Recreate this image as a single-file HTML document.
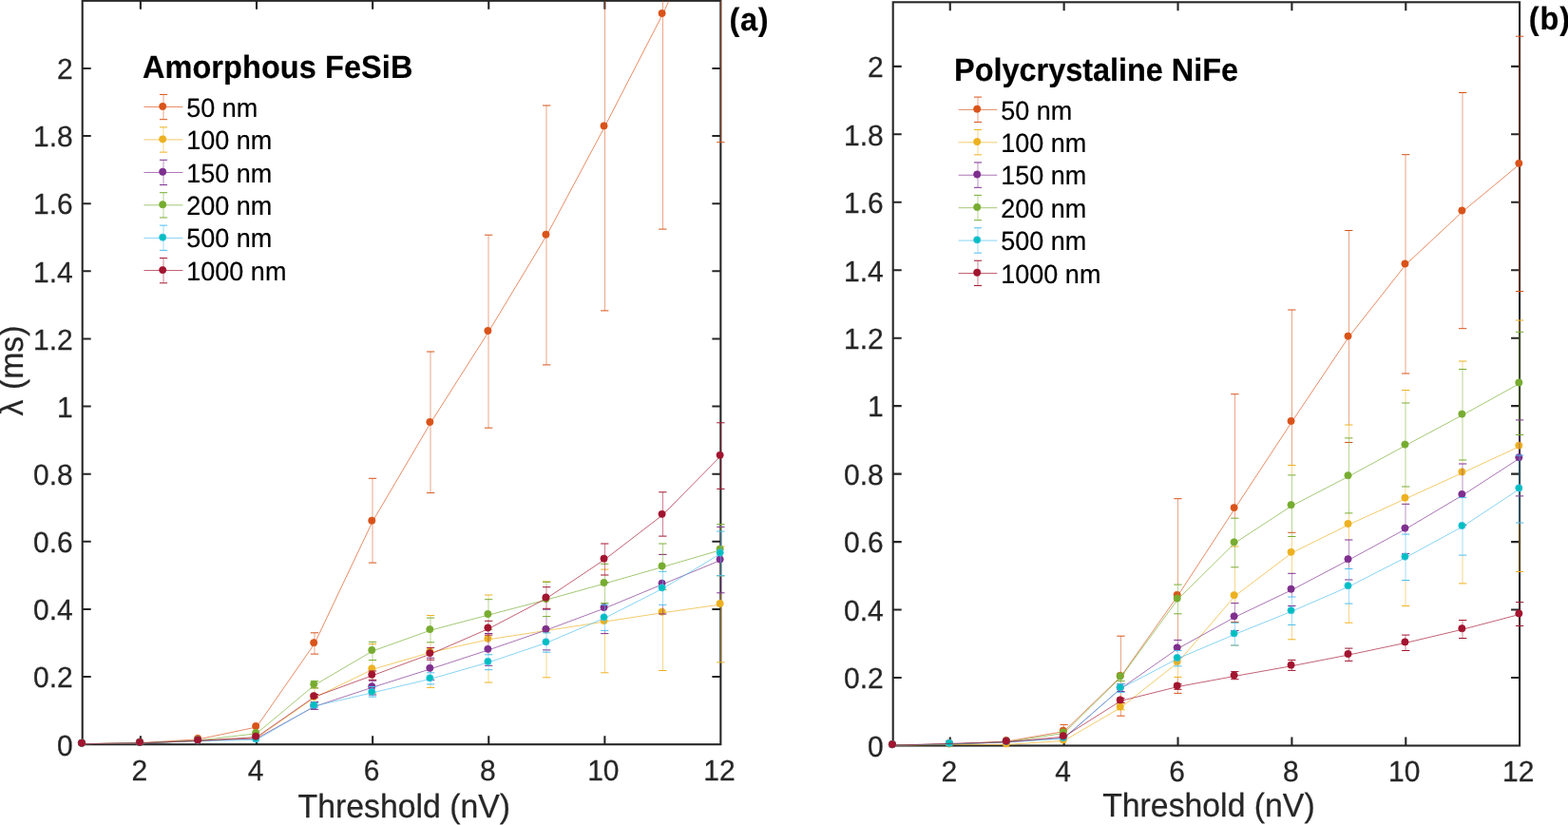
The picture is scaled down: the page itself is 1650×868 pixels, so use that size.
<!DOCTYPE html>
<html lang="en">
<head>
<meta charset="utf-8">
<title>Threshold dependence of lambda</title>
<style>
html,body{margin:0;padding:0;background:#fff;}
body{width:1650px;height:868px;overflow:hidden;}
svg{display:block;font-family:"Liberation Sans",Arial,Helvetica,sans-serif;text-rendering:geometricPrecision;}
</style>
</head>
<body>
<svg width="1650" height="868" viewBox="0 0 1650 868" role="img" aria-label="Lambda versus threshold for amorphous FeSiB and polycrystalline NiFe films">
<rect width="1650" height="868" fill="#fff"/>
<g stroke="#262626" stroke-width="2.1" fill="none" stroke-linecap="butt">
<rect x="86.7" y="0.8" width="671.65" height="782.4"/>
<path d="M147.89 783.2V774.2M147.89 0.8V9.8M270.01 783.2V774.2M270.01 0.8V9.8M392.13 783.2V774.2M392.13 0.8V9.8M514.25 783.2V774.2M514.25 0.8V9.8M636.37 783.2V774.2M636.37 0.8V9.8M86.7 712.07H95.7M758.35 712.07H749.35M86.7 640.95H95.7M758.35 640.95H749.35M86.7 569.82H95.7M758.35 569.82H749.35M86.7 498.69H95.7M758.35 498.69H749.35M86.7 427.56H95.7M758.35 427.56H749.35M86.7 356.44H95.7M758.35 356.44H749.35M86.7 285.31H95.7M758.35 285.31H749.35M86.7 214.18H95.7M758.35 214.18H749.35M86.7 143.05H95.7M758.35 143.05H749.35M86.7 71.93H95.7M758.35 71.93H749.35"/>
</g>
<clipPath id="clipa"><rect x="80.7" y="0.8" width="683.65" height="788.4"/></clipPath>
<g clip-path="url(#clipa)">
<g stroke="#D95319" stroke-width="0.67" fill="none">
<polyline points="86.73,782.7 147.79,781.6 208.85,777.8 269.91,765 330.97,677.2 392.03,548.7 453.09,445 514.15,349 575.21,247.7 636.27,133.4 697.33,15 758.39,-116"/>
<path stroke-width="0.52" d="M331 665.8V688.1M392 503.3V592.1M453 370V518.6M514 247.2V450.2M575 111V383.9M636.5 -60V326.9M697.5 -200V241.1M758.5 -400V149.7"/>
<path stroke-width="1.0" d="M326.82 665.8h8.3M326.82 688.1h8.3M387.88 503.3h8.3M387.88 592.1h8.3M448.94 370h8.3M448.94 518.6h8.3M510 247.2h8.3M510 450.2h8.3M571.06 111h8.3M571.06 383.9h8.3M632.12 -60h8.3M632.12 326.9h8.3M693.18 -200h8.3M693.18 241.1h8.3M754.24 -400h8.3M754.24 149.7h8.3"/>
</g>
<g fill="#D95319" stroke="#D95319" stroke-width="0.67">
<circle cx="85.98" cy="781.7" r="3.67"/>
<circle cx="147.04" cy="780.6" r="3.67"/>
<circle cx="208.1" cy="776.8" r="3.67"/>
<circle cx="269.16" cy="764" r="3.67"/>
<circle cx="330.22" cy="676.2" r="3.67"/>
<circle cx="391.28" cy="547.7" r="3.67"/>
<circle cx="452.34" cy="444" r="3.67"/>
<circle cx="513.4" cy="348" r="3.67"/>
<circle cx="574.46" cy="246.7" r="3.67"/>
<circle cx="635.52" cy="132.4" r="3.67"/>
<circle cx="696.58" cy="14" r="3.67"/>
</g>
<g stroke="#EDB120" stroke-width="0.67" fill="none">
<polyline points="86.73,782.7 147.79,781.9 208.85,779.4 269.91,776.5 330.97,734 392.03,704.3 453.09,686.4 514.15,672.8 575.21,663.4 636.27,654.1 697.33,644.7 758.39,636"/>
<path stroke-width="0.52" d="M331 724V730.5M331 733.9V738.6M392 694.5V706M392 715.3V716.2M453 647.5V650.1M453 675.8V681.6M453 719.9V723.4M514 626V630.7M514 704.7V718M575 612V612.3M575 686.2V712.8M636.5 666.6V707.8M697.5 646V705.5M758.5 623.8V696.9"/>
<path stroke-width="1.0" d="M326.82 723.7h8.3M326.82 742.3h8.3M387.88 677.6h8.3M387.88 729h8.3M448.94 647.5h8.3M448.94 723.4h8.3M510 626h8.3M510 718h8.3M571.06 612h8.3M571.06 712.8h8.3M632.12 599.1h8.3M632.12 707.8h8.3M693.18 583.4h8.3M693.18 705.5h8.3M754.24 575h8.3M754.24 696.9h8.3"/>
</g>
<g fill="#EDB120" stroke="#EDB120" stroke-width="0.67">
<circle cx="85.98" cy="781.7" r="3.67"/>
<circle cx="147.04" cy="780.9" r="3.67"/>
<circle cx="208.1" cy="778.4" r="3.67"/>
<circle cx="269.16" cy="775.5" r="3.67"/>
<circle cx="330.22" cy="733" r="3.67"/>
<circle cx="391.28" cy="703.3" r="3.67"/>
<circle cx="452.34" cy="685.4" r="3.67"/>
<circle cx="513.4" cy="671.8" r="3.67"/>
<circle cx="574.46" cy="662.4" r="3.67"/>
<circle cx="635.52" cy="653.1" r="3.67"/>
<circle cx="696.58" cy="643.7" r="3.67"/>
<circle cx="757.64" cy="635" r="3.67"/>
</g>
<g stroke="#7E2F8E" stroke-width="0.67" fill="none">
<polyline points="86.73,782.7 147.79,781.9 208.85,779.4 269.91,777 330.97,743.4 392.03,723.2 453.09,703.8 514.15,683.8 575.21,662.8 636.27,640 697.33,614.7 758.39,589.4"/>
<path stroke-width="0.52" d="M331 738.6V739.6M331 744.2V746.4M392 716.2V722.5M453 694.2V707.8M514 668.1V688.8M575 648.6V665.9M636.5 634.6V636.3M636.5 663.4V666.6M697.5 636.3V646M758.5 605.8V623.8"/>
<path stroke-width="1.0" d="M326.82 738.6h8.3M326.82 746.4h8.3M387.88 716.2h8.3M387.88 731h8.3M448.94 692.2h8.3M448.94 715.4h8.3M510 666.5h8.3M510 700.3h8.3M571.06 641.2h8.3M571.06 683.9h8.3M632.12 613h8.3M632.12 666.6h8.3M693.18 583.4h8.3M693.18 646h8.3M754.24 554.4h8.3M754.24 623.8h8.3"/>
</g>
<g fill="#7E2F8E" stroke="#7E2F8E" stroke-width="0.67">
<circle cx="85.98" cy="781.7" r="3.67"/>
<circle cx="147.04" cy="780.9" r="3.67"/>
<circle cx="208.1" cy="778.4" r="3.67"/>
<circle cx="269.16" cy="776" r="3.67"/>
<circle cx="330.22" cy="742.4" r="3.67"/>
<circle cx="391.28" cy="722.2" r="3.67"/>
<circle cx="452.34" cy="702.8" r="3.67"/>
<circle cx="513.4" cy="682.8" r="3.67"/>
<circle cx="574.46" cy="661.8" r="3.67"/>
<circle cx="635.52" cy="639" r="3.67"/>
<circle cx="696.58" cy="613.7" r="3.67"/>
<circle cx="757.64" cy="588.4" r="3.67"/>
</g>
<g stroke="#77AC30" stroke-width="0.67" fill="none">
<polyline points="86.73,782.7 147.79,781.9 208.85,779 269.91,771.8 330.97,720.8 392.03,685 453.09,663.1 514.15,647 575.21,631 636.27,614 697.33,596.5 758.39,578.7"/>
<path stroke-width="0.52" d="M331 716.6V724M392 675.4V694.5M453 650.1V675.8M514 630.7V653.3M575 612.3V617.7M575 640.3V648.6M636.5 605V634.6M697.5 572V601.3M758.5 551.6V559.1M758.5 605.7V605.8"/>
<path stroke-width="1.0" d="M326.82 716.6h8.3M326.82 724h8.3M387.88 675.4h8.3M387.88 694.5h8.3M448.94 650.1h8.3M448.94 675.8h8.3M510 630.7h8.3M510 662.4h8.3M571.06 612.3h8.3M571.06 648.6h8.3M632.12 593.3h8.3M632.12 634.6h8.3M693.18 572h8.3M693.18 620.4h8.3M754.24 551.6h8.3M754.24 605.8h8.3"/>
</g>
<g fill="#77AC30" stroke="#77AC30" stroke-width="0.67">
<circle cx="85.98" cy="781.7" r="3.67"/>
<circle cx="147.04" cy="780.9" r="3.67"/>
<circle cx="208.1" cy="778" r="3.67"/>
<circle cx="269.16" cy="770.8" r="3.67"/>
<circle cx="330.22" cy="719.8" r="3.67"/>
<circle cx="391.28" cy="684" r="3.67"/>
<circle cx="452.34" cy="662.1" r="3.67"/>
<circle cx="513.4" cy="646" r="3.67"/>
<circle cx="574.46" cy="630" r="3.67"/>
<circle cx="635.52" cy="613" r="3.67"/>
<circle cx="696.58" cy="595.5" r="3.67"/>
<circle cx="757.64" cy="577.7" r="3.67"/>
</g>
<g stroke="#4DBEEE" stroke-width="0.67" fill="none">
<polyline points="86.73,782.7 147.79,781.9 208.85,779.6 269.91,778.4 330.97,742.8 392.03,728.8 453.09,714.3 514.15,696.9 575.21,676.3 636.27,650.3 697.33,619.3 758.39,582.5"/>
<path stroke-width="0.52" d="M331 739.6V744.2M392 722.5V733.1M453 707.8V719.9M514 688.8V704.7M575 665.9V686.2M636.5 636.3V663.4M697.5 601.3V636.3M758.5 559.1V605.7"/>
<path stroke-width="1.0" d="M326.82 739.6h8.3M326.82 744.2h8.3M387.88 722.5h8.3M387.88 733.1h8.3M448.94 707.8h8.3M448.94 719.9h8.3M510 688.8h8.3M510 704.7h8.3M571.06 665.9h8.3M571.06 686.2h8.3M632.12 636.3h8.3M632.12 663.4h8.3M693.18 601.3h8.3M693.18 636.3h8.3M754.24 559.1h8.3M754.24 605.7h8.3"/>
</g>
<g fill="#00BFBF" stroke="#4DBEEE" stroke-width="0.67">
<circle cx="85.98" cy="781.7" r="3.67"/>
<circle cx="147.04" cy="780.9" r="3.67"/>
<circle cx="208.1" cy="778.6" r="3.67"/>
<circle cx="269.16" cy="777.4" r="3.67"/>
<circle cx="330.22" cy="741.8" r="3.67"/>
<circle cx="391.28" cy="727.8" r="3.67"/>
<circle cx="452.34" cy="713.3" r="3.67"/>
<circle cx="513.4" cy="695.9" r="3.67"/>
<circle cx="574.46" cy="675.3" r="3.67"/>
<circle cx="635.52" cy="649.3" r="3.67"/>
<circle cx="696.58" cy="618.3" r="3.67"/>
<circle cx="757.64" cy="581.5" r="3.67"/>
</g>
<g stroke="#A2142F" stroke-width="0.67" fill="none">
<polyline points="86.73,782.7 147.79,781.8 208.85,779.4 269.91,775.6 330.97,733.1 392.03,710.7 453.09,688.1 514.15,661.5 575.21,629.5 636.27,588.7 697.33,541.8 758.39,479.8"/>
<path stroke-width="0.52" d="M331 730.5V733.9M392 706V715.3M453 681.6V694.2M514 653.3V668.1M575 617.7V640.3M636.5 572V605M697.5 517.8V564.1M758.5 444.8V514.4"/>
<path stroke-width="1.0" d="M326.82 730.5h8.3M326.82 733.9h8.3M387.88 706h8.3M387.88 715.3h8.3M448.94 681.6h8.3M448.94 694.2h8.3M510 653.3h8.3M510 668.1h8.3M571.06 617.7h8.3M571.06 640.3h8.3M632.12 572h8.3M632.12 605h8.3M693.18 517.8h8.3M693.18 564.1h8.3M754.24 444.8h8.3M754.24 514.4h8.3"/>
</g>
<g fill="#A2142F" stroke="#A2142F" stroke-width="0.67">
<circle cx="85.98" cy="781.7" r="3.67"/>
<circle cx="147.04" cy="780.8" r="3.67"/>
<circle cx="208.1" cy="778.4" r="3.67"/>
<circle cx="269.16" cy="774.6" r="3.67"/>
<circle cx="330.22" cy="732.1" r="3.67"/>
<circle cx="391.28" cy="709.7" r="3.67"/>
<circle cx="452.34" cy="687.1" r="3.67"/>
<circle cx="513.4" cy="660.5" r="3.67"/>
<circle cx="574.46" cy="628.5" r="3.67"/>
<circle cx="635.52" cy="587.7" r="3.67"/>
<circle cx="696.58" cy="540.8" r="3.67"/>
<circle cx="757.64" cy="478.8" r="3.67"/>
</g>
</g>
<g fill="#262626" stroke="#262626" stroke-width="0.25">
<text transform="translate(146.89 820.7) scale(1 1.02)" font-size="30.0" text-anchor="middle">2</text>
<text transform="translate(269.01 820.7) scale(1 1.02)" font-size="30.0" text-anchor="middle">4</text>
<text transform="translate(391.13 820.7) scale(1 1.02)" font-size="30.0" text-anchor="middle">6</text>
<text transform="translate(513.25 820.7) scale(1 1.02)" font-size="30.0" text-anchor="middle">8</text>
<text transform="translate(634.87 820.7) scale(1 1.02)" font-size="30.0" text-anchor="middle">10</text>
<text transform="translate(756.99 820.7) scale(1 1.02)" font-size="30.0" text-anchor="middle">12</text>
<text transform="translate(76.8 794.5) scale(1 1.02)" font-size="30.0" text-anchor="end">0</text>
<text transform="translate(76.8 723.37) scale(1 1.02)" font-size="30.0" text-anchor="end">0.2</text>
<text transform="translate(76.8 652.25) scale(1 1.02)" font-size="30.0" text-anchor="end">0.4</text>
<text transform="translate(76.8 581.12) scale(1 1.02)" font-size="30.0" text-anchor="end">0.6</text>
<text transform="translate(76.8 509.99) scale(1 1.02)" font-size="30.0" text-anchor="end">0.8</text>
<text transform="translate(76.8 438.86) scale(1 1.02)" font-size="30.0" text-anchor="end">1</text>
<text transform="translate(76.8 367.74) scale(1 1.02)" font-size="30.0" text-anchor="end">1.2</text>
<text transform="translate(76.8 296.61) scale(1 1.02)" font-size="30.0" text-anchor="end">1.4</text>
<text transform="translate(76.8 225.48) scale(1 1.02)" font-size="30.0" text-anchor="end">1.6</text>
<text transform="translate(76.8 154.35) scale(1 1.02)" font-size="30.0" text-anchor="end">1.8</text>
<text transform="translate(76.8 83.23) scale(1 1.02)" font-size="30.0" text-anchor="end">2</text>
<text transform="translate(425.3 860.3) scale(1 1.03)" font-size="33.8" text-anchor="middle">Threshold (nV)</text>
<text transform="translate(24.2 0) rotate(-90) scale(1 1.03)" font-size="33.8"><tspan x="-437.6" text-anchor="start">λ</tspan><tspan x="-342.5" text-anchor="end"> (ms)</tspan></text>
</g>
<g fill="#000" stroke="#000" stroke-width="0.2">
<text transform="translate(149.9 82) scale(1 1.04)" font-size="32.5" font-weight="bold" textLength="284.5" lengthAdjust="spacing">Amorphous FeSiB</text>
<text transform="translate(196.3 122.7) scale(1 1.03)" font-size="27.0">50 nm</text>
<text transform="translate(196.3 157.12) scale(1 1.03)" font-size="27.0">100 nm</text>
<text transform="translate(196.3 191.54) scale(1 1.03)" font-size="27.0">150 nm</text>
<text transform="translate(196.3 225.96) scale(1 1.03)" font-size="27.0">200 nm</text>
<text transform="translate(196.3 260.38) scale(1 1.03)" font-size="27.0">500 nm</text>
<text transform="translate(196.3 294.8) scale(1 1.03)" font-size="27.0">1000 nm</text>
<text transform="translate(767.6 31.6) scale(1 1.04)" font-size="32.5" font-weight="bold" textLength="40.9" lengthAdjust="spacing">(a)</text>
</g>
<g stroke="#D95319" stroke-width="0.67" fill="none">
<path d="M151.45 112.45h41"/>
<path stroke-width="0.52" d="M172 99.45V125.7"/>
<path stroke-width="1.0" d="M167.95 99.45h8.1M167.95 125.7h8.1"/>
<circle cx="171.2" cy="111.95" r="3.67" fill="#D95319"/>
</g>
<g stroke="#EDB120" stroke-width="0.67" fill="none">
<path d="M151.45 146.95h41"/>
<path stroke-width="0.52" d="M172 133.87V160.12"/>
<path stroke-width="1.0" d="M167.95 133.87h8.1M167.95 160.12h8.1"/>
<circle cx="171.2" cy="146.37" r="3.67" fill="#EDB120"/>
</g>
<g stroke="#7E2F8E" stroke-width="0.67" fill="none">
<path d="M151.45 181.45h41"/>
<path stroke-width="0.52" d="M172 168.29V194.54"/>
<path stroke-width="1.0" d="M167.95 168.29h8.1M167.95 194.54h8.1"/>
<circle cx="171.2" cy="180.79" r="3.67" fill="#7E2F8E"/>
</g>
<g stroke="#77AC30" stroke-width="0.67" fill="none">
<path d="M151.45 215.8h41"/>
<path stroke-width="0.52" d="M172 202.71V228.96"/>
<path stroke-width="1.0" d="M167.95 202.71h8.1M167.95 228.96h8.1"/>
<circle cx="171.2" cy="215.21" r="3.67" fill="#77AC30"/>
</g>
<g stroke="#4DBEEE" stroke-width="0.67" fill="none">
<path d="M151.45 250.4h41"/>
<path stroke-width="0.52" d="M172 237.13V263.38"/>
<path stroke-width="1.0" d="M167.95 237.13h8.1M167.95 263.38h8.1"/>
<circle cx="171.2" cy="249.63" r="3.67" fill="#00BFBF"/>
</g>
<g stroke="#A2142F" stroke-width="0.67" fill="none">
<path d="M151.45 284.5h41"/>
<path stroke-width="0.52" d="M172 271.55V297.8"/>
<path stroke-width="1.0" d="M167.95 271.55h8.1M167.95 297.8h8.1"/>
<circle cx="171.2" cy="284.05" r="3.67" fill="#A2142F"/>
</g>
<g stroke="#262626" stroke-width="2.1" fill="none" stroke-linecap="butt">
<rect x="939.7" y="2.3" width="659.4" height="782.2"/>
<path d="M999.75 784.5V775.5M999.75 2.3V11.3M1119.63 784.5V775.5M1119.63 2.3V11.3M1239.53 784.5V775.5M1239.53 2.3V11.3M1359.41 784.5V775.5M1359.41 2.3V11.3M1479.3 784.5V775.5M1479.3 2.3V11.3M939.7 713.03H948.7M1599.1 713.03H1590.1M939.7 641.57H948.7M1599.1 641.57H1590.1M939.7 570.1H948.7M1599.1 570.1H1590.1M939.7 498.63H948.7M1599.1 498.63H1590.1M939.7 427.17H948.7M1599.1 427.17H1590.1M939.7 355.7H948.7M1599.1 355.7H1590.1M939.7 284.24H948.7M1599.1 284.24H1590.1M939.7 212.77H948.7M1599.1 212.77H1590.1M939.7 141.3H948.7M1599.1 141.3H1590.1M939.7 69.84H948.7M1599.1 69.84H1590.1"/>
</g>
<clipPath id="clipb"><rect x="933.7" y="2.3" width="671.4" height="788.2"/></clipPath>
<g clip-path="url(#clipb)">
<g stroke="#D95319" stroke-width="0.67" fill="none">
<polyline points="939.7,784.1 999.65,783 1059.59,780 1119.54,769.6 1179.48,711.8 1239.43,626.8 1299.37,535.1 1359.32,444 1419.26,354.6 1479.2,278.5 1539.15,222.5 1599.1,172.8"/>
<path stroke-width="0.52" d="M1119.5 762.4V774.8M1179.5 669.2V708.3M1179.5 716.4V719.5M1179.5 728.4V734.6M1179.5 739.2V740M1179.5 746.8V753.2M1239.5 524.7V615.1M1239.5 645.8V673.4M1239.5 712.4V719.7M1239.5 725.3V729.4M1299.5 414.7V545.2M1359.5 326V489.5M1419.5 242.5V447M1479 162.7V393M1539 97.5V345.7M1599 38.2V306.5"/>
<path stroke-width="1.0" d="M1115.38 762.4h8.3M1115.38 774.8h8.3M1175.33 669.2h8.3M1175.33 753.2h8.3M1235.28 524.7h8.3M1235.28 729.4h8.3M1295.22 414.7h8.3M1295.22 654.5h8.3M1355.16 326h8.3M1355.16 560.3h8.3M1415.11 242.5h8.3M1415.11 465.5h8.3M1475.05 162.7h8.3M1475.05 393h8.3M1535 97.5h8.3M1535 345.7h8.3M1594.94 38.2h8.3M1594.94 306.5h8.3"/>
</g>
<g fill="#D95319" stroke="#D95319" stroke-width="0.67">
<circle cx="938.95" cy="783.1" r="3.67"/>
<circle cx="998.9" cy="782" r="3.67"/>
<circle cx="1058.84" cy="779" r="3.67"/>
<circle cx="1118.79" cy="768.6" r="3.67"/>
<circle cx="1178.73" cy="710.8" r="3.67"/>
<circle cx="1238.68" cy="625.8" r="3.67"/>
<circle cx="1298.62" cy="534.1" r="3.67"/>
<circle cx="1358.57" cy="443" r="3.67"/>
<circle cx="1418.51" cy="353.6" r="3.67"/>
<circle cx="1478.45" cy="277.5" r="3.67"/>
<circle cx="1538.4" cy="221.5" r="3.67"/>
<circle cx="1598.35" cy="171.8" r="3.67"/>
</g>
<g stroke="#EDB120" stroke-width="0.67" fill="none">
<polyline points="939.7,784.1 999.65,783.5 1059.59,783.4 1119.54,779.4 1179.48,744.4 1239.43,697.1 1299.37,627.2 1359.32,581.8 1419.26,552 1479.2,524.7 1539.15,497.4 1599.1,469.7"/>
<path stroke-width="0.52" d="M1179.5 740V746.8M1239.5 700.9V712.4M1299.5 596.8V634.6M1359.5 489.5V499.9M1359.5 564.5V603.3M1359.5 657.5V672.8M1419.5 447V460.9M1419.5 539.9V568M1419.5 635.1V655.2M1479 410.5V424M1479 512V530.3M1479 610.5V637.5M1539 380V388.5M1539 484V488M1539 584.1V613.9M1599 337V349.3M1599 550V601.5"/>
<path stroke-width="1.0" d="M1175.33 740h8.3M1175.33 746.8h8.3M1235.28 680h8.3M1235.28 712.4h8.3M1295.22 575h8.3M1295.22 679h8.3M1355.16 489.5h8.3M1355.16 672.8h8.3M1415.11 447h8.3M1415.11 655.2h8.3M1475.05 410.5h8.3M1475.05 637.5h8.3M1535 380h8.3M1535 613.9h8.3M1594.94 337h8.3M1594.94 601.5h8.3"/>
</g>
<g fill="#EDB120" stroke="#EDB120" stroke-width="0.67">
<circle cx="938.95" cy="783.1" r="3.67"/>
<circle cx="998.9" cy="782.5" r="3.67"/>
<circle cx="1058.84" cy="782.4" r="3.67"/>
<circle cx="1118.79" cy="778.4" r="3.67"/>
<circle cx="1178.73" cy="743.4" r="3.67"/>
<circle cx="1238.68" cy="696.1" r="3.67"/>
<circle cx="1298.62" cy="626.2" r="3.67"/>
<circle cx="1358.57" cy="580.8" r="3.67"/>
<circle cx="1418.51" cy="551" r="3.67"/>
<circle cx="1478.45" cy="523.7" r="3.67"/>
<circle cx="1538.4" cy="496.4" r="3.67"/>
<circle cx="1598.35" cy="468.7" r="3.67"/>
</g>
<g stroke="#7E2F8E" stroke-width="0.67" fill="none">
<polyline points="939.7,784.1 999.65,783 1059.59,780.8 1119.54,776.5 1179.48,724.4 1239.43,682.4 1299.37,649.3 1359.32,620.7 1419.26,589.2 1479.2,556.6 1539.15,521 1599.1,482.2"/>
<path stroke-width="0.52" d="M1179.5 719.5V719.7M1239.5 673.4V684.5M1299.5 634.6V655.3M1359.5 603.3V628M1419.5 568V598.5M1479 530.3V562.1M1539 488V523.6M1599 457.5V479.1"/>
<path stroke-width="1.0" d="M1175.33 719.5h8.3M1175.33 727.5h8.3M1235.28 673.4h8.3M1235.28 691.5h8.3M1295.22 634.6h8.3M1295.22 663.5h8.3M1355.16 603.3h8.3M1355.16 637.5h8.3M1415.11 568h8.3M1415.11 610h8.3M1475.05 530.3h8.3M1475.05 582.4h8.3M1535 488h8.3M1535 552.5h8.3M1594.94 441.9h8.3M1594.94 521.9h8.3"/>
</g>
<g fill="#7E2F8E" stroke="#7E2F8E" stroke-width="0.67">
<circle cx="938.95" cy="783.1" r="3.67"/>
<circle cx="998.9" cy="782" r="3.67"/>
<circle cx="1058.84" cy="779.8" r="3.67"/>
<circle cx="1118.79" cy="775.5" r="3.67"/>
<circle cx="1178.73" cy="723.4" r="3.67"/>
<circle cx="1238.68" cy="681.4" r="3.67"/>
<circle cx="1298.62" cy="648.3" r="3.67"/>
<circle cx="1358.57" cy="619.7" r="3.67"/>
<circle cx="1418.51" cy="588.2" r="3.67"/>
<circle cx="1478.45" cy="555.6" r="3.67"/>
<circle cx="1538.4" cy="520" r="3.67"/>
<circle cx="1598.35" cy="481.2" r="3.67"/>
</g>
<g stroke="#77AC30" stroke-width="0.67" fill="none">
<polyline points="939.7,784.1 999.65,783 1059.59,780.6 1119.54,771.5 1179.48,712.5 1239.43,630.6 1299.37,571.3 1359.32,532.2 1419.26,501.2 1479.2,468.6 1539.15,436.6 1599.1,403.5"/>
<path stroke-width="0.52" d="M1179.5 708.3V716.4M1239.5 615.1V645.8M1299.5 545.2V596.8M1359.5 499.9V564.5M1419.5 460.9V539.9M1479 424V512M1539 388.5V484M1599 349.3V457.5"/>
<path stroke-width="1.0" d="M1175.33 708.3h8.3M1175.33 716.4h8.3M1235.28 615.1h8.3M1235.28 645.8h8.3M1295.22 545.2h8.3M1295.22 596.8h8.3M1355.16 499.9h8.3M1355.16 564.5h8.3M1415.11 460.9h8.3M1415.11 539.9h8.3M1475.05 424h8.3M1475.05 512h8.3M1535 388.5h8.3M1535 484h8.3M1594.94 349.3h8.3M1594.94 457.5h8.3"/>
</g>
<g fill="#77AC30" stroke="#77AC30" stroke-width="0.67">
<circle cx="938.95" cy="783.1" r="3.67"/>
<circle cx="998.9" cy="782" r="3.67"/>
<circle cx="1058.84" cy="779.6" r="3.67"/>
<circle cx="1118.79" cy="770.5" r="3.67"/>
<circle cx="1178.73" cy="711.5" r="3.67"/>
<circle cx="1238.68" cy="629.6" r="3.67"/>
<circle cx="1298.62" cy="570.3" r="3.67"/>
<circle cx="1358.57" cy="531.2" r="3.67"/>
<circle cx="1418.51" cy="500.2" r="3.67"/>
<circle cx="1478.45" cy="467.6" r="3.67"/>
<circle cx="1538.4" cy="435.6" r="3.67"/>
<circle cx="1598.35" cy="402.5" r="3.67"/>
</g>
<g stroke="#4DBEEE" stroke-width="0.67" fill="none">
<polyline points="939.7,784.1 999.65,782.8 1059.59,780.8 1119.54,777 1179.48,724.2 1239.43,692.9 1299.37,667.4 1359.32,643.2 1419.26,617.2 1479.2,586.6 1539.15,554 1599.1,514.4"/>
<path stroke-width="0.52" d="M1179.5 719.7V728.4M1239.5 684.5V700.9M1299.5 655.3V679M1359.5 628V657.5M1419.5 598.5V635.1M1479 562.1V610.5M1539 523.6V584.1M1599 479.1V550"/>
<path stroke-width="1.0" d="M1175.33 719.7h8.3M1175.33 728.4h8.3M1235.28 684.5h8.3M1235.28 700.9h8.3M1295.22 655.3h8.3M1295.22 679h8.3M1355.16 628h8.3M1355.16 657.5h8.3M1415.11 598.5h8.3M1415.11 635.1h8.3M1475.05 562.1h8.3M1475.05 610.5h8.3M1535 523.6h8.3M1535 584.1h8.3M1594.94 479.1h8.3M1594.94 550h8.3"/>
</g>
<g fill="#00BFBF" stroke="#4DBEEE" stroke-width="0.67">
<circle cx="938.95" cy="783.1" r="3.67"/>
<circle cx="998.9" cy="781.8" r="3.67"/>
<circle cx="1058.84" cy="779.8" r="3.67"/>
<circle cx="1118.79" cy="776" r="3.67"/>
<circle cx="1178.73" cy="723.2" r="3.67"/>
<circle cx="1238.68" cy="691.9" r="3.67"/>
<circle cx="1298.62" cy="666.4" r="3.67"/>
<circle cx="1358.57" cy="642.2" r="3.67"/>
<circle cx="1418.51" cy="616.2" r="3.67"/>
<circle cx="1478.45" cy="585.6" r="3.67"/>
<circle cx="1538.4" cy="553" r="3.67"/>
<circle cx="1598.35" cy="513.4" r="3.67"/>
</g>
<g stroke="#A2142F" stroke-width="0.67" fill="none">
<polyline points="939.7,784.1 1059.59,780.6 1119.54,775.2 1179.48,737.4 1239.43,722.5 1299.37,711.4 1359.32,700.7 1419.26,689 1479.2,676.4 1539.15,662.2 1599.1,646.4"/>
<path stroke-width="0.52" d="M1179.5 734.6V739.2M1239.5 719.7V725.3M1299.5 706.6V714.7M1359.5 694.4V705.4M1419.5 682.1V695.4M1479 668.1V684.5M1539 652.5V671.5M1599 633.6V658.5"/>
<path stroke-width="1.0" d="M1175.33 734.6h8.3M1175.33 739.2h8.3M1235.28 719.7h8.3M1235.28 725.3h8.3M1295.22 706.6h8.3M1295.22 714.7h8.3M1355.16 694.4h8.3M1355.16 705.4h8.3M1415.11 682.1h8.3M1415.11 695.4h8.3M1475.05 668.1h8.3M1475.05 684.5h8.3M1535 652.5h8.3M1535 671.5h8.3M1594.94 633.6h8.3M1594.94 658.5h8.3"/>
</g>
<g fill="#A2142F" stroke="#A2142F" stroke-width="0.67">
<circle cx="938.95" cy="783.1" r="3.67"/>
<circle cx="1058.84" cy="779.6" r="3.67"/>
<circle cx="1118.79" cy="774.2" r="3.67"/>
<circle cx="1178.73" cy="736.4" r="3.67"/>
<circle cx="1238.68" cy="721.5" r="3.67"/>
<circle cx="1298.62" cy="710.4" r="3.67"/>
<circle cx="1358.57" cy="699.7" r="3.67"/>
<circle cx="1418.51" cy="688" r="3.67"/>
<circle cx="1478.45" cy="675.4" r="3.67"/>
<circle cx="1538.4" cy="661.2" r="3.67"/>
<circle cx="1598.35" cy="645.4" r="3.67"/>
</g>
</g>
<g fill="#262626" stroke="#262626" stroke-width="0.25">
<text transform="translate(998.75 822) scale(1 1.02)" font-size="30.0" text-anchor="middle">2</text>
<text transform="translate(1118.63 822) scale(1 1.02)" font-size="30.0" text-anchor="middle">4</text>
<text transform="translate(1238.53 822) scale(1 1.02)" font-size="30.0" text-anchor="middle">6</text>
<text transform="translate(1358.41 822) scale(1 1.02)" font-size="30.0" text-anchor="middle">8</text>
<text transform="translate(1477.8 822) scale(1 1.02)" font-size="30.0" text-anchor="middle">10</text>
<text transform="translate(1597.69 822) scale(1 1.02)" font-size="30.0" text-anchor="middle">12</text>
<text transform="translate(929.8 795.8) scale(1 1.02)" font-size="30.0" text-anchor="end">0</text>
<text transform="translate(929.8 724.33) scale(1 1.02)" font-size="30.0" text-anchor="end">0.2</text>
<text transform="translate(929.8 652.87) scale(1 1.02)" font-size="30.0" text-anchor="end">0.4</text>
<text transform="translate(929.8 581.4) scale(1 1.02)" font-size="30.0" text-anchor="end">0.6</text>
<text transform="translate(929.8 509.93) scale(1 1.02)" font-size="30.0" text-anchor="end">0.8</text>
<text transform="translate(929.8 438.47) scale(1 1.02)" font-size="30.0" text-anchor="end">1</text>
<text transform="translate(929.8 367) scale(1 1.02)" font-size="30.0" text-anchor="end">1.2</text>
<text transform="translate(929.8 295.54) scale(1 1.02)" font-size="30.0" text-anchor="end">1.4</text>
<text transform="translate(929.8 224.07) scale(1 1.02)" font-size="30.0" text-anchor="end">1.6</text>
<text transform="translate(929.8 152.6) scale(1 1.02)" font-size="30.0" text-anchor="end">1.8</text>
<text transform="translate(929.8 81.14) scale(1 1.02)" font-size="30.0" text-anchor="end">2</text>
<text transform="translate(1271.9 859.3) scale(1 1.03)" font-size="33.8" text-anchor="middle">Threshold (nV)</text>
</g>
<g fill="#000" stroke="#000" stroke-width="0.2">
<text transform="translate(1004.1 84.5) scale(1 1.04)" font-size="32.5" font-weight="bold" textLength="299.0" lengthAdjust="spacing">Polycrystaline NiFe</text>
<text transform="translate(1053.3 125.6) scale(1 1.03)" font-size="27.0">50 nm</text>
<text transform="translate(1053.3 160.02) scale(1 1.03)" font-size="27.0">100 nm</text>
<text transform="translate(1053.3 194.44) scale(1 1.03)" font-size="27.0">150 nm</text>
<text transform="translate(1053.3 228.86) scale(1 1.03)" font-size="27.0">200 nm</text>
<text transform="translate(1053.3 263.28) scale(1 1.03)" font-size="27.0">500 nm</text>
<text transform="translate(1053.3 297.7) scale(1 1.03)" font-size="27.0">1000 nm</text>
<text transform="translate(1608.8 30.8) scale(1 1.04)" font-size="32.5" font-weight="bold" textLength="43.3" lengthAdjust="spacing">(b)</text>
</g>
<g stroke="#D95319" stroke-width="0.67" fill="none">
<path d="M1008.6 115.4h40.7"/>
<path stroke-width="0.52" d="M1029 102.1V128.45"/>
<path stroke-width="1.0" d="M1024.95 102.1h8.1M1024.95 128.45h8.1"/>
<circle cx="1028.2" cy="114.65" r="3.67" fill="#D95319"/>
</g>
<g stroke="#EDB120" stroke-width="0.67" fill="none">
<path d="M1008.6 149.82h40.7"/>
<path stroke-width="0.52" d="M1029 136.52V162.87"/>
<path stroke-width="1.0" d="M1024.95 136.52h8.1M1024.95 162.87h8.1"/>
<circle cx="1028.2" cy="149.07" r="3.67" fill="#EDB120"/>
</g>
<g stroke="#7E2F8E" stroke-width="0.67" fill="none">
<path d="M1008.6 184.24h40.7"/>
<path stroke-width="0.52" d="M1029 170.94V197.29"/>
<path stroke-width="1.0" d="M1024.95 170.94h8.1M1024.95 197.29h8.1"/>
<circle cx="1028.2" cy="183.49" r="3.67" fill="#7E2F8E"/>
</g>
<g stroke="#77AC30" stroke-width="0.67" fill="none">
<path d="M1008.6 218.66h40.7"/>
<path stroke-width="0.52" d="M1029 205.36V231.71"/>
<path stroke-width="1.0" d="M1024.95 205.36h8.1M1024.95 231.71h8.1"/>
<circle cx="1028.2" cy="217.91" r="3.67" fill="#77AC30"/>
</g>
<g stroke="#4DBEEE" stroke-width="0.67" fill="none">
<path d="M1008.6 253.08h40.7"/>
<path stroke-width="0.52" d="M1029 239.78V266.13"/>
<path stroke-width="1.0" d="M1024.95 239.78h8.1M1024.95 266.13h8.1"/>
<circle cx="1028.2" cy="252.33" r="3.67" fill="#00BFBF"/>
</g>
<g stroke="#A2142F" stroke-width="0.67" fill="none">
<path d="M1008.6 287.5h40.7"/>
<path stroke-width="0.52" d="M1029 274.2V300.55"/>
<path stroke-width="1.0" d="M1024.95 274.2h8.1M1024.95 300.55h8.1"/>
<circle cx="1028.2" cy="286.75" r="3.67" fill="#A2142F"/>
</g>
</svg>
</body>
</html>
